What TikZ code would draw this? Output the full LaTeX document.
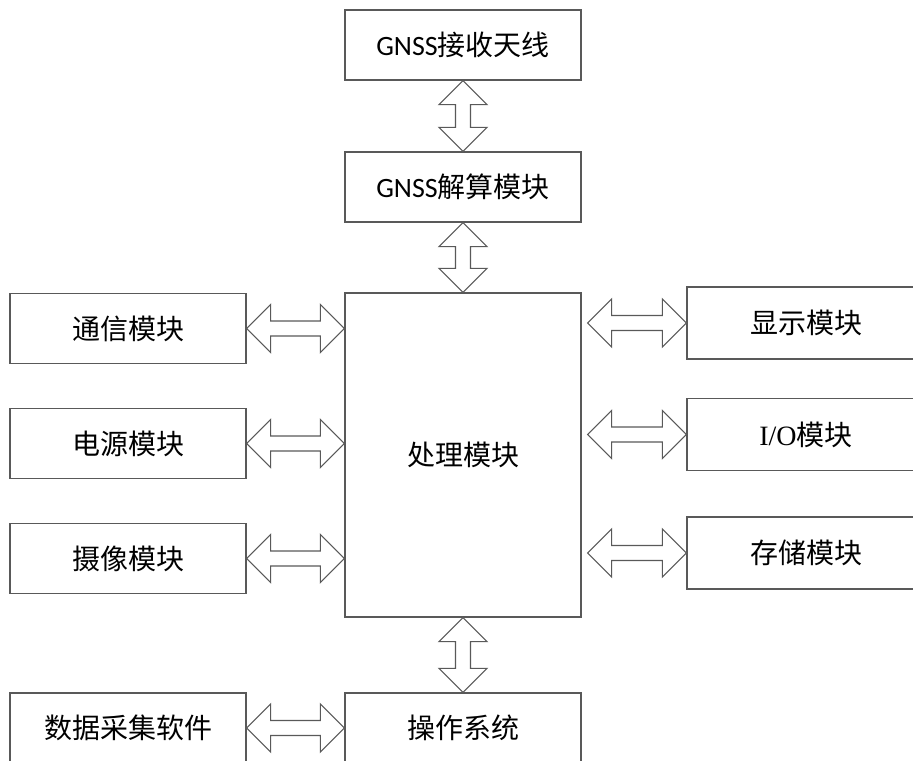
\documentclass[tikz,border=0pt]{standalone}
\usepackage{fontspec}
\setmainfont{Liberation Serif}
\newfontfamily\cjk{Noto Sans CJK SC}
\newfontfamily\calibri{Carlito}
\usetikzlibrary{calc}

\tikzset{
	box/.style={draw=black!65, line width=1pt, minimum width=177pt, minimum height=52.5pt, inner sep=0pt, font=\fontsize{21}{25}\selectfont\cjk},
	blk/.style={draw=black!65, line width=0.8pt, fill=white, line join=miter},
}

\newcommand{\harrow}[2]{
	\draw[blk] (#1) -- ++(24,-24) -- ++(0,16.5) -- ($(#2)+(-24,-7.5)$) -- ++(0,-16.5) -- (#2)
		-- ++(-24,24) -- ++(0,-16.5) -- ($(#1)+(24,7.5)$) -- ++(0,16.5) -- cycle;
}
\newcommand{\varrow}[2]{
	\draw[blk] (#1) -- ++(24,24) -- ++(-16.5,0) -- ($(#2)+(7.5,-24)$) -- ++(16.5,0) -- (#2)
		-- ++(-24,-24) -- ++(16.5,0) -- ($(#1)+(-7.5,24)$) -- ++(-16.5,0) -- cycle;
}

\begin{document}
\begin{tikzpicture}[x=0.75pt, y=-0.75pt]
		\useasboundingbox (0,0) rectangle (913,760);

		\node[box] (ant) at (463,45) {{\calibri GNSS}接收天线};
		\node[box] (sol) at (463,187) {{\calibri GNSS}解算模块};
		\node[box, minimum height=243pt] (proc) at (463,455) {处理模块};
		\node[box] (os) at (463,728) {操作系统};

		\node[box] (comm) at (128,328.5) {通信模块};
		\node[box] (power) at (128,443.5) {电源模块};
		\node[box] (cam) at (128,558.5) {摄像模块};
		\node[box] (data) at (128,728) {数据采集软件};

		\node[box, minimum width=178.5pt, minimum height=54pt] (disp) at (806,323) {显示模块};
		\node[box, minimum width=178.5pt, minimum height=54pt] (io) at (806,434.5) {{\rmfamily I/O}模块};
		\node[box, minimum width=178.5pt, minimum height=54pt] (store) at (806,553) {存储模块};

		\coordinate (commin) at (proc.west |- comm.east);
		\coordinate (powerin) at (proc.west |- power.east);
		\coordinate (camin) at (proc.west |- cam.east);
		\coordinate (dispout) at ($(proc.east |- disp.west)+(6,0)$);
		\coordinate (ioout) at ($(proc.east |- io.west)+(6,0)$);
		\coordinate (storeout) at ($(proc.east |- store.west)+(6,0)$);

		\varrow{ant.south}{sol.north}
		\varrow{sol.south}{proc.north}
		\varrow{proc.south}{os.north}

		\harrow{comm.east}{commin}
		\harrow{power.east}{powerin}
		\harrow{cam.east}{camin}
		\harrow{data.east}{os.west}

		\harrow{dispout}{disp.west}
		\harrow{ioout}{io.west}
		\harrow{storeout}{store.west}
	\end{tikzpicture}
\end{document}
